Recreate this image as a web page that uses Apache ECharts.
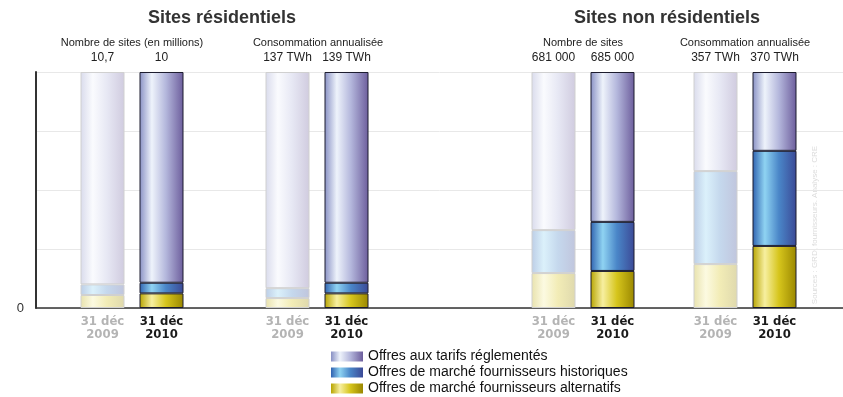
<!DOCTYPE html>
<html>
<head>
<meta charset="utf-8">
<script src="https://cdn.jsdelivr.net/npm/echarts@6/dist/echarts.min.js"></script>
<style>
  html, body { margin: 0; padding: 0; background: #fff; }
  #main { width: 843px; height: 397px; }
</style>
</head>
<body>
<div id="main"></div>
<script>
// données (en % de la hauteur de chaque barre)
var periodes = ['31 déc\n2009', '31 déc\n2010'];
var groupes = ['Nombre de sites (en millions)', 'Consommation annualisée', 'Nombre de sites', 'Consommation annualisée'];
var totaux = [['10,7', '10'], ['137 TWh', '139 TWh'], ['681 000', '685 000'], ['357 TWh', '370 TWh']];
var reglementes = [[90.0, 89.3], [91.6, 89.3], [67.0, 63.5], [42.0, 33.4]];
var historiques = [[4.5, 4.5], [4.2, 4.5], [18.2, 20.8], [39.4, 40.3]];
var alternatifs = [[5.5, 6.2], [4.2, 6.2], [14.8, 15.7], [18.6, 26.3]];
var nomsSeries = ['Offres aux tarifs réglementés', 'Offres de marché fournisseurs historiques', 'Offres de marché fournisseurs alternatifs'];

var fontTxt = 'Liberation Sans, Arial, sans-serif';
var fontCond = '"Liberation Sans Narrow", "DejaVu Sans Condensed", sans-serif';

// mélange une couleur avec du blanc (pour 2009, plus pâle)
function pale(hex, t) {
  var n = parseInt(hex.slice(1), 16);
  var r = (n >> 16) & 255, g = (n >> 8) & 255, b = n & 255;
  r = Math.round(r + (255 - r) * t);
  g = Math.round(g + (255 - g) * t);
  b = Math.round(b + (255 - b) * t);
  return 'rgb(' + r + ',' + g + ',' + b + ')';
}

// dégradés horizontaux pour l'effet "cylindre"
function cylindre(stops, t) {
  return new echarts.graphic.LinearGradient(0, 0, 1, 0, [
    { offset: 0, color: pale(stops[0], t) },
    { offset: 0.28, color: pale(stops[1], t) },
    { offset: 0.6, color: pale(stops[2], t) },
    { offset: 1, color: pale(stops[3], t) }
  ]);
}
var teintes = [
  ['#8890c4', '#eef3fb', '#b4b7dc', '#6c5d9c'],
  ['#2f62b0', '#8fd3f2', '#4a86c8', '#3b4996'],
  ['#b7a400', '#f7efa0', '#d6c51c', '#9a8700']
];

// positions des 4 groupes de barres
var gauches = [73, 258, 524, 686];
var largeur = 118;

var grids = [{ left: 36, right: 0, top: 72, bottom: 89 }];
var xAxes = [{
  gridIndex: 0, type: 'value', min: 0, max: 1,
  axisLine: { show: true, onZero: false, lineStyle: { color: '#333', width: 1.5 } },
  axisTick: { show: false }, axisLabel: { show: false }, splitLine: { show: false }
}];
var yAxes = [{
  gridIndex: 0, type: 'value', min: 0, max: 100, interval: 25,
  axisLine: { show: true, lineStyle: { color: '#333', width: 2 } },
  axisTick: { show: false },
  axisLabel: {
    margin: 12, color: '#333', fontSize: 13, fontFamily: fontTxt,
    formatter: function (v) { return v === 0 ? '0' : ''; }
  },
  splitLine: { lineStyle: { color: '#e8e8e8' } }
}];
var series = [];

groupes.forEach(function (g, i) {
  grids.push({ left: gauches[i], width: largeur, top: 72, bottom: 89 });
  xAxes.push({
    gridIndex: i + 1, type: 'category', data: periodes,
    axisLine: { show: false }, axisTick: { show: false },
    axisLabel: {
      interval: 0, margin: 7,
      formatter: function (v, idx) {
        var s = idx === 0 ? 'a' : 'b';
        return v.split('\n').map(function (l) { return '{' + s + '|' + l + '}'; }).join('\n');
      },
      rich: {
        a: { color: '#b4b4b4', fontFamily: fontCond, fontWeight: 'bold', fontSize: 13, lineHeight: 13 },
        b: { color: '#1a1a1a', fontFamily: fontCond, fontWeight: 'bold', fontSize: 13, lineHeight: 13 }
      }
    }
  });
  yAxes.push({ gridIndex: i + 1, type: 'value', min: 0, max: 100, show: false });

  var valeurs = [alternatifs[i], historiques[i], reglementes[i]];
  var noms = [nomsSeries[2], nomsSeries[1], nomsSeries[0]];
  var tons = [teintes[2], teintes[1], teintes[0]];
  valeurs.forEach(function (vals, k) {
    series.push({
      name: noms[k],
      type: 'bar',
      stack: 'g' + i,
      xAxisIndex: i + 1,
      yAxisIndex: i + 1,
      barWidth: 44,
      itemStyle: { color: cylindre(tons[k], 0) },
      label: k === 2 ? {
        show: true, position: 'top', distance: 8, color: '#222', fontSize: 12, fontFamily: fontTxt,
        formatter: function (p) { return totaux[i][p.dataIndex]; }
      } : { show: false },
      data: vals.map(function (v, j) {
        return j === 0
          ? { value: v, itemStyle: { color: cylindre(tons[k], 0.68), borderColor: '#d0d0d0', borderWidth: 1 } }
          : { value: v, itemStyle: { borderColor: '#1c1c2e', borderWidth: 1 } };
      })
    });
  });
});

var myChart = echarts.init(document.getElementById('main'));

var option = {
  animation: false,
  backgroundColor: '#fff',
  grid: grids,
  xAxis: xAxes,
  yAxis: yAxes,
  legend: {
    orient: 'vertical',
    left: 331,
    top: 349,
    padding: 0,
    itemGap: 1,
    itemWidth: 32,
    itemHeight: 10,
    icon: 'rect',
    data: nomsSeries,
    textStyle: { color: '#111', fontSize: 14, lineHeight: 15, fontFamily: fontTxt }
  },
  graphic: [
    { type: 'text', left: 148, top: 9, style: { text: 'Sites résidentiels', font: 'bold 18px ' + fontTxt, fill: '#333' } },
    { type: 'text', left: 574, top: 9, style: { text: 'Sites non résidentiels', font: 'bold 18px ' + fontTxt, fill: '#333' } },
    { type: 'text', x: 132, y: 43, style: { text: groupes[0], align: 'center', verticalAlign: 'middle', font: '11px ' + fontTxt, fill: '#222' } },
    { type: 'text', x: 318, y: 43, style: { text: groupes[1], align: 'center', verticalAlign: 'middle', font: '11px ' + fontTxt, fill: '#222' } },
    { type: 'text', x: 583, y: 43, style: { text: groupes[2], align: 'center', verticalAlign: 'middle', font: '11px ' + fontTxt, fill: '#222' } },
    { type: 'text', x: 745, y: 43, style: { text: groupes[3], align: 'center', verticalAlign: 'middle', font: '11px ' + fontTxt, fill: '#222' } },
    { type: 'text', x: 815, y: 225, rotation: Math.PI / 2,
      style: { text: 'Sources : GRD, fournisseurs. Analyse : CRE', align: 'center', verticalAlign: 'middle', font: '8px ' + fontTxt, fill: '#dcdcdc' } }
  ],
  series: series
};

myChart.setOption(option);
</script>
</body>
</html>
